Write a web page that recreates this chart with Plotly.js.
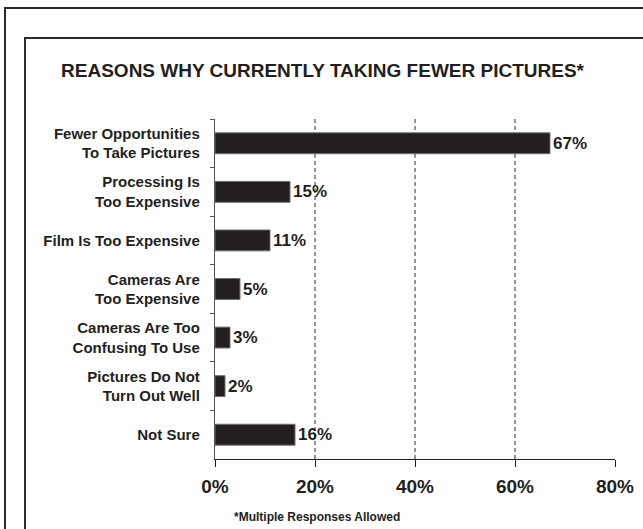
<!DOCTYPE html>
<html>
<head>
<meta charset="utf-8">
<script src="https://cdn.plot.ly/plotly-3.0.1.min.js"></script>
<style>
  html, body { margin: 0; padding: 0; background: #fff; overflow: hidden; width: 643px; height: 529px; }
  #wrap { position: relative; width: 643px; height: 529px; overflow: hidden; }
  .hl { position: absolute; height: 2px; width: 900px; background: #2a2a2a; }
  .vl { position: absolute; width: 2px; height: 900px; background: #2a2a2a; }
  #chart { position: absolute; left: 0; top: 0; width: 643px; height: 529px; }
</style>
</head>
<body>
<div id="wrap">
  <div class="hl" style="left:4px; top:7px;"></div>
  <div class="vl" style="left:4px; top:7px;"></div>
  <div class="hl" style="left:24px; top:37px;"></div>
  <div class="vl" style="left:24px; top:37px;"></div>
  <div id="chart"></div>
</div>
<script>
// ---- data ----
const categories = [
  "Fewer Opportunities<br>To Take Pictures",
  "Processing Is<br>Too Expensive",
  "Film Is Too Expensive",
  "Cameras Are<br>Too Expensive",
  "Cameras Are Too<br>Confusing To Use",
  "Pictures Do Not<br>Turn Out Well",
  "Not Sure"
];
const values = [67, 15, 11, 5, 3, 2, 16];
const tickValues = [0, 20, 40, 60, 80];
const tickLabels = ["0%", "20%", "40%", "60%", "80%"];
const gridValues = [20, 40, 60];
const titleText = "REASONS WHY CURRENTLY TAKING FEWER PICTURES*";
const footnoteText = "*Multiple Responses Allowed";

const FONT = "Arial, 'Liberation Sans', Helvetica, sans-serif";
const INK = "#231f20";

const trace = {
  type: "bar",
  orientation: "h",
  y: categories,
  x: values,
  marker: { color: INK, line: { color: "#6e6e6e", width: 1 } },
  text: values.map(v => v + "%"),
  textposition: "outside",
  cliponaxis: false,
  textfont: { family: FONT, size: 17, color: INK, weight: "bold" },
  hoverinfo: "skip"
};

// gridlines (dashed) from grid values
const gridShapes = gridValues.map(g => ({
  type: "line", xref: "x", yref: "paper",
  x0: g, x1: g, y0: 0, y1: 1,
  line: { color: "#2a2a2a", width: 1, dash: "4px,3px" },
  layer: "below"
}));

const layout = {
  width: 643, height: 529,
  margin: { l: 215, r: 28, t: 119, b: 70, pad: 0 },
  paper_bgcolor: "rgba(0,0,0,0)", plot_bgcolor: "rgba(0,0,0,0)",
  showlegend: false,
  bargap: 0.57,
  title: {
    text: "<b>" + titleText + "</b>",
    font: { family: FONT, size: 19, color: INK },
    x: 0.5016, xref: "container", xanchor: "center",
    y: 1 - 70 / 529, yref: "container", yanchor: "middle"
  },
  xaxis: {
    range: [0, 80],
    tickvals: tickValues, ticktext: tickLabels,
    ticks: "outside", ticklen: 7, tickwidth: 1, tickcolor: INK,
    showline: true, linecolor: INK, linewidth: 1.2,
    showgrid: false, zeroline: false,
    ticklabelstandoff: 3,
    tickfont: { family: FONT, size: 19, color: INK, weight: "bold" },
    fixedrange: true
  },
  yaxis: {
    type: "category",
    autorange: "reversed",
    ticks: "outside", ticklen: 4, tickwidth: 1, tickcolor: "#555",
    tickson: "boundaries",
    showline: true, linecolor: "#555", linewidth: 1.2,
    showgrid: false, zeroline: false,
    ticklabelstandoff: 11,
    tickfont: { family: FONT, size: 15, color: INK, weight: "bold" },
    fixedrange: true
  },
  shapes: gridShapes,
  annotations: [{
    text: "<b>" + footnoteText + "</b>",
    xref: "paper", yref: "paper",
    x: (316.5 - 215) / 400, y: (459 - 517) / 340,
    xanchor: "center", yanchor: "middle",
    showarrow: false,
    font: { family: FONT, size: 12, color: INK }
  }]
};

Plotly.newPlot("chart", [trace], layout, { staticPlot: true, displayModeBar: false });
</script>
</body>
</html>
